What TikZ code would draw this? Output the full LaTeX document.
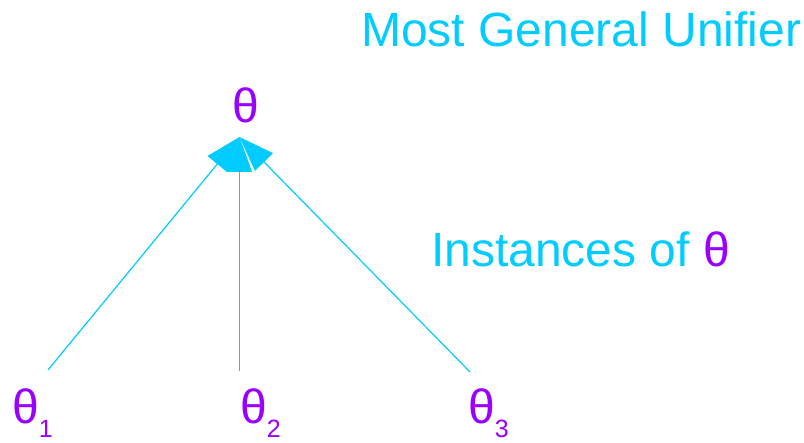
\documentclass[tikz,border=0pt]{standalone}
\usepackage{fontspec}
\setmainfont{Liberation Sans}
\usetikzlibrary{arrows.meta}
\definecolor{skycyan}{HTML}{00CCFF}
\definecolor{violet}{HTML}{9900FF}
\newcommand{\subidx}[1]{\raisebox{-14pt}[0pt][0pt]{\fontsize{25}{25}\selectfont #1}}
\begin{document}
\begin{tikzpicture}[x=1pt,y=-1pt,
  label/.style={inner sep=0pt,font=\fontsize{48}{48}\selectfont},
  edge/.style={draw=skycyan,line width=1.2pt,-{Triangle[length=35pt,width=25pt]}}]
  \useasboundingbox (0,0) rectangle (804,443);
  % headline and side note
  \node[label,text=skycyan,anchor=base west] (mgu) at (361,47) {Most General Unifier};
  \node[label,text=skycyan,anchor=base west] (inst) at (431,267) {Instances of \textcolor{violet}{θ}};
  % the unifier and its instances
  \node[label,text=violet,anchor=base] (top) at (246,123) {θ};
  \node[label,text=violet,anchor=base west] (t1) at (12,424) {θ\subidx{1}};
  \node[label,text=violet,anchor=base west] (t2) at (240,424) {θ\subidx{2}};
  \node[label,text=violet,anchor=base west] (t3) at (468,424) {θ\subidx{3}};
  % connector end points
  \coordinate (apex) at (239.5,137);
  \coordinate (s1) at (48,370);
  \coordinate (s2) at (239.5,371);
  \coordinate (s3) at (470,372);
  \draw[edge] (s1) -- (apex);
  \draw[edge] (s3) -- (apex);
  \draw[edge] (s2) -- (apex);
\end{tikzpicture}
\end{document}
